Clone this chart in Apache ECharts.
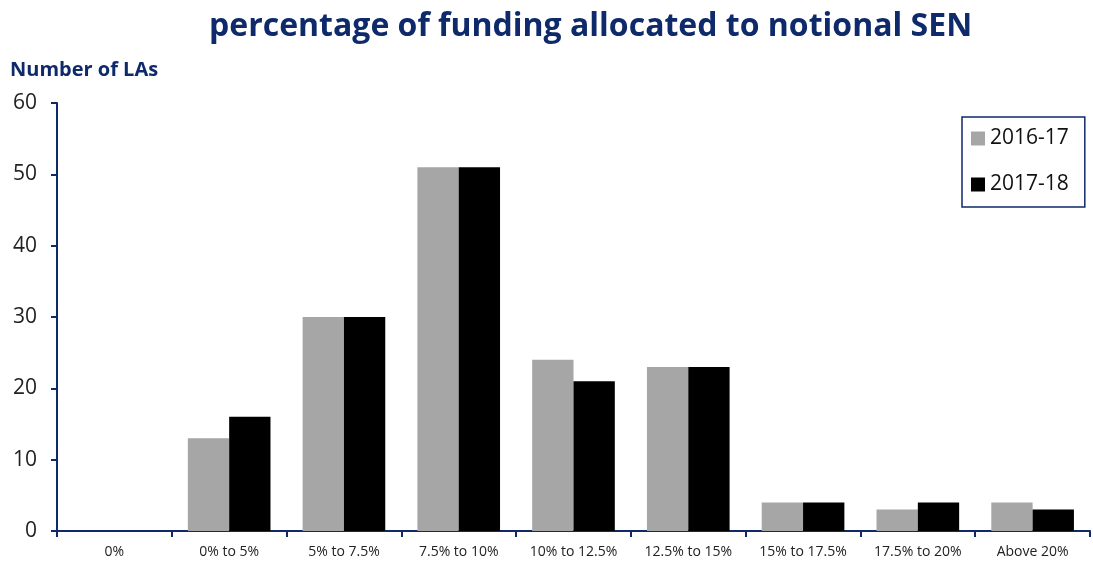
<!DOCTYPE html>
<html><head><meta charset="utf-8">
<script src="https://cdn.jsdelivr.net/npm/echarts@6/dist/echarts.min.js"></script>
<style>html,body{margin:0;padding:0;background:#fff}#c{width:1093px;height:565px}</style>
</head><body><div id="c"></div>
<script>
const categories = ['0%','0% to 5%','5% to 7.5%','7.5% to 10%','10% to 12.5%','12.5% to 15%','15% to 17.5%','17.5% to 20%','Above 20%'];
const series2016 = [0,13,30,51,24,23,4,3,4];
const series2017 = [0,16,30,51,21,23,4,4,3];
const yTicks = [0,10,20,30,40,50,60];
const navy = '#0E2A6B';
const chart = echarts.init(document.getElementById('c'));
chart.setOption({
  animation:false,
  title:{text:'percentage of funding allocated to notional SEN',left:204,top:6,
    textStyle:{fontFamily:'Open Sans',fontWeight:'bold',fontSize:32,color:navy}},
  graphic:[{type:'text',left:10,top:60,style:{text:'Number of LAs',font:'bold 20px "Open Sans"',fill:navy}}],
  legend:{orient:'vertical',left:962,top:117,padding:[11,16,12,9],itemGap:25,
    borderColor:navy,borderWidth:1.5,itemWidth:14,itemHeight:14,icon:'rect',
    textStyle:{fontFamily:'Open Sans',fontSize:21,color:'#111'},
    data:['2016-17','2017-18']},
  grid:{left:57,right:3,top:103,bottom:34,containLabel:false},
  xAxis:{type:'category',data:categories,
    axisLine:{lineStyle:{color:navy,width:2}},
    axisTick:{show:true,length:6,lineStyle:{color:navy,width:2},alignWithLabel:false},
    axisLabel:{fontFamily:'Open Sans',fontSize:14,color:'#222',margin:14}},
  yAxis:{type:'value',min:0,max:60,interval:10,
    axisLine:{show:true,lineStyle:{color:navy,width:2}},
    axisTick:{show:true,length:6,lineStyle:{color:navy,width:2}},
    splitLine:{show:false},
    axisLabel:{fontFamily:'Open Sans',fontSize:21,color:'#222',margin:20,
      formatter:v=>yTicks.includes(v)?String(v):''}},
  series:[
    {name:'2016-17',type:'bar',data:series2016,barGap:'0%',barCategoryGap:'28%',
      itemStyle:{color:'#A6A6A6'}},
    {name:'2017-18',type:'bar',data:series2017,barGap:'0%',barCategoryGap:'28%',
      itemStyle:{color:'#000000'}}
  ]
});
</script></body></html>
